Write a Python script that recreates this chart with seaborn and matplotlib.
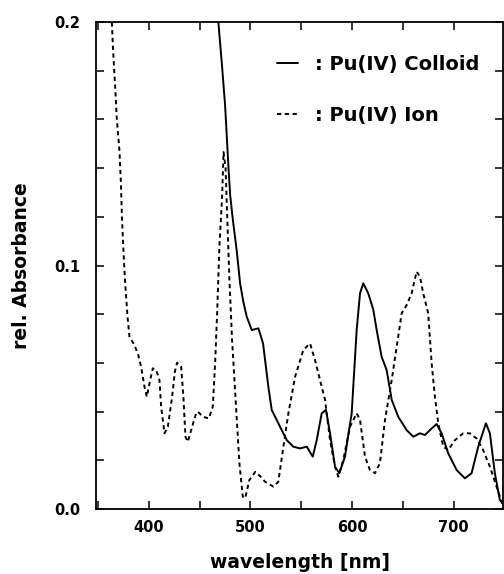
import pandas as pd
import numpy as np
import matplotlib
matplotlib.use("Agg")
import matplotlib.pyplot as plt
import seaborn as sns

# Pu(IV) colloid
colloid_nm = [467.5, 468.4, 472.0, 475.0, 476.7, 478.3, 480.0, 482.6, 486.5, 489.8, 492.8, 496.3,
              501.3, 507.8, 512.4, 517.6, 520.9, 529.1, 535.7, 542.2, 548.8, 555.4, 561.3, 565.2,
              570.1, 574.3, 578.3, 583.2, 587.4, 593.0, 599.6, 604.5, 607.8, 611.0, 615.9, 620.8,
              624.2, 629.1, 634.0, 639.0, 645.4, 653.7, 660.2, 666.8, 671.7, 678.3, 683.2,
              688.1, 694.6, 702.9, 711.0, 717.6, 724.1, 731.7, 735.6, 740.5, 745.4, 748.7]
colloid_abs = [0.215, 0.200, 0.182, 0.166, 0.153, 0.1406, 0.129, 0.119, 0.106, 0.0927, 0.0855, 0.079,
               0.0735, 0.0742, 0.0680, 0.0502, 0.0407, 0.0338, 0.0283, 0.0256, 0.0249, 0.0256, 0.0215,
               0.0283, 0.0393, 0.0407, 0.0311, 0.0174, 0.0147, 0.0215, 0.0393, 0.0735, 0.0886, 0.0927,
               0.0886, 0.0820, 0.0735, 0.0625, 0.0571, 0.0448, 0.0379, 0.0324, 0.0297, 0.0311, 0.0304,
               0.0331, 0.0349, 0.0311, 0.0229, 0.0160, 0.0126, 0.0147, 0.0256, 0.0352, 0.0311, 0.0147,
               0.0037, 0.0023]

# Pu(IV) ion
ion_nm = [362.8, 363.6, 364.6, 366.9, 368.5, 371.1, 372.5, 373.5, 375.0, 376.7, 379.0, 380.9,
          384.9, 389.2, 392.4, 395.7, 398.0, 401.3, 403.9, 407.2, 410.4, 412.1, 415.4, 418.7,
          422.9, 425.6, 427.8, 431.8, 434.0, 436.0, 438.3, 442.6, 446.5, 448.2, 453.1, 459.0,
          462.9, 465.2, 467.2, 469.4, 472.1, 473.5, 475.5, 477.0, 479.3, 481.9, 485.2, 489.1,
          492.4, 494.7, 498.9, 504.8, 509.5, 514.4, 522.5, 527.4, 532.4, 537.3, 543.9, 552.0,
          558.6, 563.5, 568.4, 573.4, 578.3, 583.2, 586.4, 591.3, 597.9, 604.5, 607.8, 612.7,
          617.6, 622.5, 627.4, 632.4, 639.0, 643.9, 648.8, 653.7, 658.6, 663.5, 666.8, 670.0,
          674.9, 678.3, 681.5, 684.8, 689.7, 694.6, 701.2, 709.3, 715.9, 722.5, 729.0, 735.6,
          742.2, 747.1, 749.0]
ion_abs = [0.210, 0.200, 0.190, 0.173, 0.160, 0.147, 0.134, 0.120, 0.106, 0.0927, 0.079, 0.0708,
           0.068, 0.0639, 0.0584, 0.0502, 0.0461, 0.053, 0.0578, 0.0571, 0.053, 0.042, 0.0311, 0.0338,
           0.0461, 0.0564, 0.0601, 0.0584, 0.0461, 0.0297, 0.0276, 0.0338, 0.0393, 0.040, 0.0379,
           0.0372, 0.042, 0.0598, 0.0804, 0.1077, 0.1283, 0.1466, 0.140, 0.1214, 0.094, 0.0694,
           0.0461, 0.0188, 0.0051, 0.0044, 0.0119, 0.0153, 0.0135, 0.0112, 0.0092, 0.0112, 0.0256,
           0.0393, 0.0543, 0.0653, 0.068, 0.0612, 0.053, 0.0448, 0.0283, 0.0174, 0.0133, 0.0201,
           0.0338, 0.0393, 0.0366, 0.0215, 0.016, 0.0147, 0.0188, 0.0366, 0.053, 0.0667, 0.0804,
           0.0838, 0.0886, 0.0975, 0.0954, 0.0886, 0.0804, 0.0598, 0.0461, 0.0352, 0.0256, 0.0242,
           0.0283, 0.0311, 0.0311, 0.029, 0.0242, 0.0174, 0.0092, 0.003, 0.001]

colloid = pd.DataFrame({"wavelength": colloid_nm, "absorbance": colloid_abs})
ion = pd.DataFrame({"wavelength": ion_nm, "absorbance": ion_abs})

sns.set_style("ticks")
plt.rcParams["font.family"] = ["DejaVu Sans"]
plt.rcParams["font.weight"] = "bold"
plt.rcParams["text.color"] = "black"
plt.rcParams["axes.labelcolor"] = "black"
plt.rcParams["axes.edgecolor"] = "black"
plt.rcParams["xtick.color"] = "black"
plt.rcParams["ytick.color"] = "black"

fig = plt.figure(figsize=(5.04, 5.74), dpi=100)
ax = fig.add_axes([0.1905, 0.1132, 0.8075, 0.8484])

sns.lineplot(data=colloid, x="wavelength", y="absorbance", ax=ax, color="black",
             linewidth=1.4, label=": Pu(IV) Colloid")
sns.lineplot(data=ion, x="wavelength", y="absorbance", ax=ax, color="black",
             linewidth=1.4, label=": Pu(IV) Ion")
ax.lines[1].set_linestyle((0, (2.2, 1.8)))

ax.set_xlim(348, 748.5)
ax.set_ylim(0, 0.2)
ax.set_xticks([400, 500, 600, 700])
ax.set_xticks([350, 450, 550, 650], minor=True)
ax.set_yticks([0.0, 0.1, 0.2])
ax.set_yticks(np.arange(0.02, 0.2, 0.02), minor=True)
ax.set_yticklabels(["0.0", "0.1", "0.2"])
ax.tick_params(which="both", direction="in", top=True, right=True, length=6, width=1.1)
ax.tick_params(axis="x", labelsize=10.5, pad=8)
ax.tick_params(axis="y", labelsize=10.5, pad=11)
for lab in ax.get_xticklabels() + ax.get_yticklabels():
    lab.set_fontweight("bold")
for sp in ax.spines.values():
    sp.set_linewidth(1.3)

ax.set_xlabel("wavelength [nm]", fontsize=13.5, fontweight="bold", labelpad=13)
ax.set_ylabel("rel. Absorbance", fontsize=13.5, fontweight="bold", labelpad=17)

leg = ax.legend(loc="upper left", bbox_to_anchor=(0.445, 0.933), frameon=False,
                prop={"size": 14, "weight": "bold"}, handlelength=1.08, handletextpad=0.88,
                labelspacing=1.65, borderpad=0, borderaxespad=0)
leg.get_lines()[1].set_linestyle((0, (2.2, 1.8)))

fig.savefig("out.png", dpi=100)
